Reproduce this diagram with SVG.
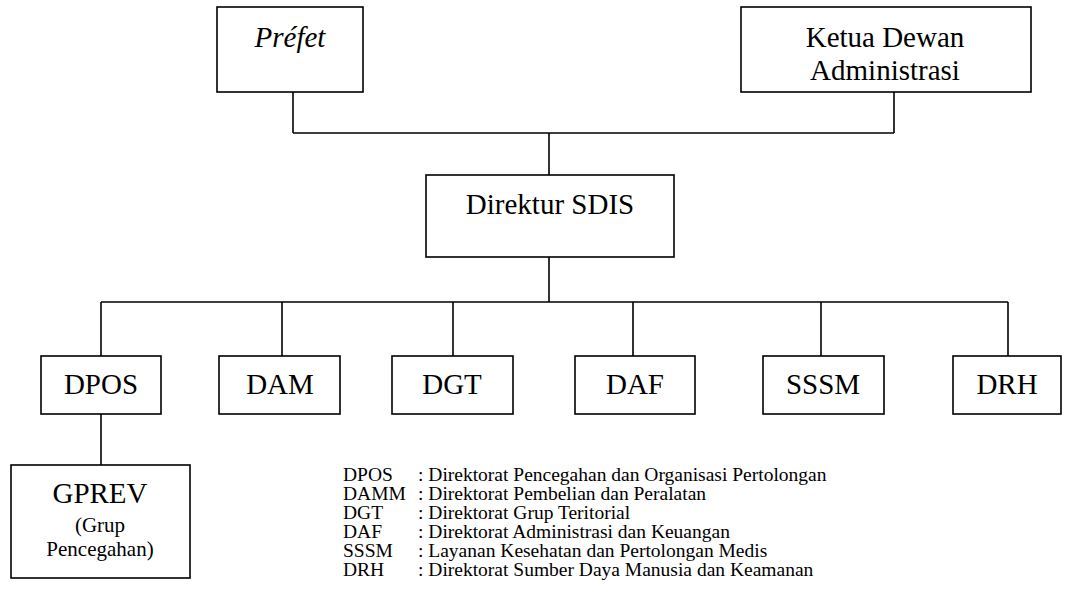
<svg xmlns="http://www.w3.org/2000/svg" width="1067" height="614" viewBox="0 0 1067 614" font-family="'Liberation Serif', 'Times New Roman', Times, serif">
<style>
.box{fill:#fff;stroke:#000;stroke-width:1.6}
.ln{fill:none;stroke:#000;stroke-width:1.6}
.big{font-size:29px;text-anchor:middle}
.sm{font-size:21px;text-anchor:middle}
.lg{font-size:19.5px}
</style>
<rect width="1067" height="614" fill="#fff"/>
<g id="connectors">
<path class="ln" d="M293 92V133M894 92V133M293 133H894M549 133V175"/>
<path class="ln" d="M549 257V302M101 302H1008M101 302V356M282 302V356M453 302V356M633 302V356M821 302V356M1008 302V356"/>
<path class="ln" d="M101 414V465"/>
</g>
<g id="prefet"><rect class="box" x="217" y="7" width="146" height="85"/><text class="big" x="290" y="47" font-style="italic">Préfet</text></g>
<g id="ketua"><rect class="box" x="741" y="7" width="290" height="85"/><text class="big" x="885" y="47">Ketua Dewan</text><text class="big" x="885" y="80">Administrasi</text></g>
<g id="direktur"><rect class="box" x="426" y="175" width="248" height="82"/><text class="big" x="550" y="214">Direktur SDIS</text></g>
<g id="dpos"><rect class="box" x="41" y="356" width="120" height="58"/><text class="big" x="101" y="394">DPOS</text></g>
<g id="dam"><rect class="box" x="219" y="356" width="121" height="58"/><text class="big" x="280" y="394">DAM</text></g>
<g id="dgt"><rect class="box" x="392" y="356" width="121" height="58"/><text class="big" x="452" y="394">DGT</text></g>
<g id="daf"><rect class="box" x="575" y="356" width="120" height="58"/><text class="big" x="635" y="394">DAF</text></g>
<g id="sssm"><rect class="box" x="763" y="356" width="121" height="58"/><text class="big" x="823" y="394">SSSM</text></g>
<g id="drh"><rect class="box" x="953" y="356" width="108" height="58"/><text class="big" x="1007" y="394">DRH</text></g>
<g id="gprev"><rect class="box" x="11" y="465" width="179" height="113"/><text class="big" x="100" y="503">GPREV</text><text class="sm" x="100" y="532">(Grup</text><text class="sm" x="100" y="556">Pencegahan)</text></g>
<g id="legend" class="lg">
<text x="343" y="481">DPOS</text><text x="418" y="481">: Direktorat Pencegahan dan Organisasi Pertolongan</text>
<text x="343" y="500">DAMM</text><text x="418" y="500">: Direktorat Pembelian dan Peralatan</text>
<text x="343" y="519">DGT</text><text x="418" y="519">: Direktorat Grup Teritorial</text>
<text x="343" y="538">DAF</text><text x="418" y="538">: Direktorat Administrasi dan Keuangan</text>
<text x="343" y="557">SSSM</text><text x="418" y="557">: Layanan Kesehatan dan Pertolongan Medis</text>
<text x="343" y="576">DRH</text><text x="418" y="576">: Direktorat Sumber Daya Manusia dan Keamanan</text>
</g>
</svg>
